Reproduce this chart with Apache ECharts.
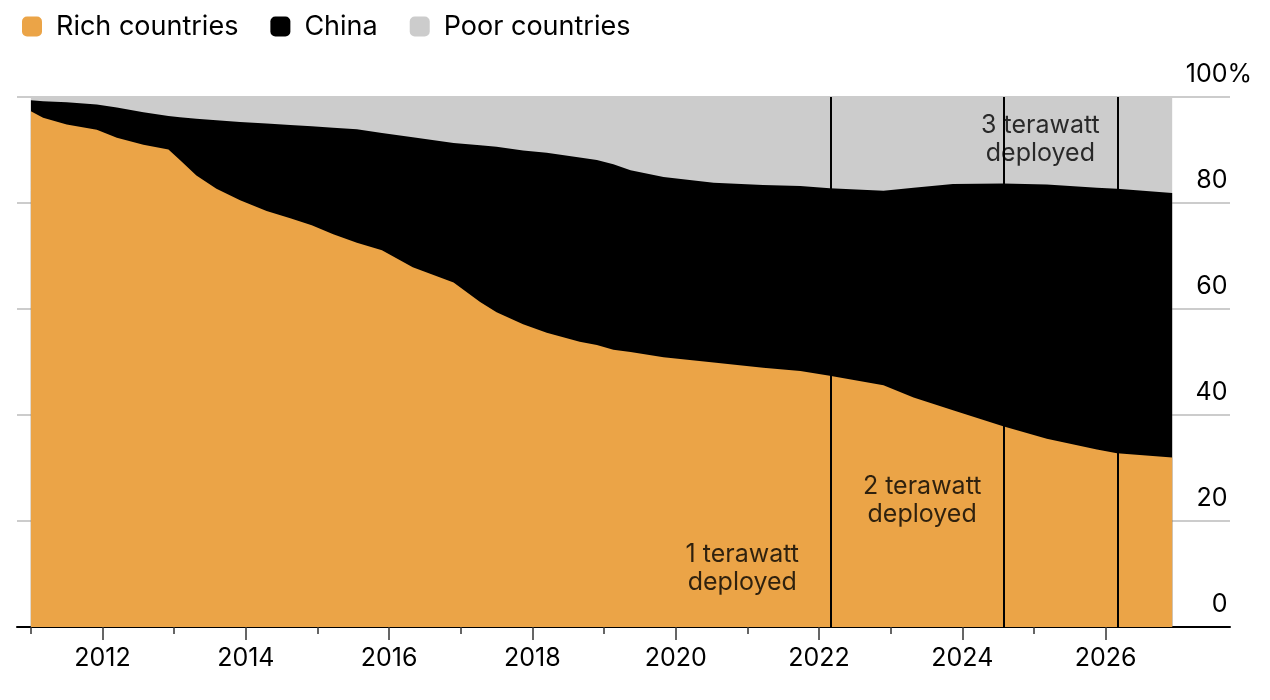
<!DOCTYPE html>
<html>
<head>
<meta charset="utf-8">
<script src="https://cdn.jsdelivr.net/npm/echarts@6/dist/echarts.min.js"></script>
<style>
  html, body { margin: 0; padding: 0; background: #fff; }
  #main { width: 1270px; height: 700px; }
</style>
</head>
<body>
<div id="main"></div>
<script>
// share of solar capacity, %
var years = [2011.0, 2011.17, 2011.5, 2011.92, 2012.2, 2012.57, 2012.92, 2013.08, 2013.31, 2013.59,
             2013.92, 2014.29, 2014.62, 2014.92, 2015.22, 2015.55, 2015.9, 2016.33, 2016.9, 2017.27,
             2017.5, 2017.87, 2018.2, 2018.66, 2018.9, 2019.13, 2019.37, 2019.83, 2020.53, 2021.22,
             2021.74, 2022.15, 2022.9, 2023.32, 2023.87, 2024.57, 2025.18, 2025.88, 2026.16, 2026.93];
var rich  = [97.3, 96.1, 94.8, 93.8, 92.3, 91.0, 90.1, 88.1, 85.2, 82.7,
             80.5, 78.5, 77.1, 75.8, 74.1, 72.5, 71.1, 67.9, 65.0, 61.3,
             59.4, 57.1, 55.5, 53.8, 53.2, 52.3, 51.9, 50.9, 49.9, 48.9,
             48.3, 47.4, 45.6, 43.3, 40.9, 37.9, 35.5, 33.5, 32.8, 32.0];
var china = [2.1, 3.1, 4.2, 4.8, 5.7, 6.1, 6.3, 8.1, 10.7, 12.9,
             14.8, 16.5, 17.6, 18.7, 20.1, 21.4, 22.1, 24.5, 26.3, 29.6,
             31.2, 32.8, 34.0, 34.8, 34.9, 35.0, 34.3, 34.0, 33.9, 34.5,
             34.9, 35.4, 36.7, 39.6, 42.7, 45.8, 48.0, 49.4, 49.9, 49.9];
var poor  = [0.6, 0.8, 1.0, 1.4, 2.0, 2.9, 3.6, 3.8, 4.1, 4.4,
             4.7, 5.0, 5.3, 5.5, 5.8, 6.1, 6.8, 7.6, 8.7, 9.1,
             9.4, 10.1, 10.5, 11.4, 11.9, 12.7, 13.8, 15.1, 16.2, 16.6,
             16.8, 17.2, 17.7, 17.1, 16.4, 16.3, 16.5, 17.1, 17.3, 18.1];

var milestones = [2022.16, 2024.58, 2026.17];
var notes = [
  { x: 2020.93, y: 11.0, text: '1 terawatt\ndeployed' },
  { x: 2023.44, y: 23.8, text: '2 terawatt\ndeployed' },
  { x: 2025.09, y: 91.9, text: '3 terawatt\ndeployed' }
];
var majorYears = [2012, 2014, 2016, 2018, 2020, 2022, 2024, 2026];
var minorYears = [2011, 2013, 2015, 2017, 2019, 2021, 2023, 2025];

var FONT = 'Inter, "Liberation Sans", Arial, sans-serif';

// running totals so each band is drawn from 0 up to its top edge
var richTop = rich.slice();
var chinaTop = rich.map(function (v, i) { return v + china[i]; });
var poorTop = chinaTop.map(function (v, i) { return v + poor[i]; });

function pairs(vals) {
  return years.map(function (y, i) { return [y, vals[i]]; });
}

function areaSeries(name, vals, color, z) {
  return {
    name: name,
    type: 'line',
    z: z,
    data: pairs(vals),
    symbol: 'none',
    showSymbol: false,
    lineStyle: { width: 0 },
    areaStyle: { color: color, opacity: 1 },
    itemStyle: { color: color },
    silent: true
  };
}

var chart = echarts.init(document.getElementById('main'));

var richSeries = areaSeries('Rich countries', richTop, '#eba447', 4);
richSeries.markLine = {
  silent: true,
  symbol: 'none',
  label: { show: false },
  lineStyle: { color: '#000', width: 2, type: 'solid' },
  data: milestones.map(function (m) { return { xAxis: m }; })
};

var option = {
  animation: false,
  legend: {
    data: ['Rich countries', 'China', 'Poor countries'],
    left: 17,
    top: 8,
    icon: 'roundRect',
    itemWidth: 20,
    itemHeight: 20,
    itemGap: 32,
    selectedMode: false,
    textStyle: { fontFamily: FONT, fontSize: 27, color: '#000', padding: [0, 0, 0, 9] }
  },
  grid: { left: 17, right: 40, top: 97, bottom: 73 },
  xAxis: [
    {
      type: 'value',
      min: 2010.806,
      max: 2027.737,
      position: 'bottom',
      splitLine: { show: false },
      axisLine: { show: true, lineStyle: { color: '#000', width: 2 } },
      axisTick: { show: true, customValues: majorYears, length: 13, lineStyle: { color: '#333', width: 1.5 } },
      axisLabel: {
        show: true, customValues: majorYears, margin: 19,
        fontFamily: FONT, fontSize: 25, color: '#000',
        formatter: function (v) { return String(Math.round(v)); }
      }
    },
    {
      type: 'value',
      min: 2010.806,
      max: 2027.737,
      position: 'bottom',
      splitLine: { show: false },
      axisLine: { show: false },
      axisTick: { show: true, customValues: minorYears, length: 7, lineStyle: { color: '#333', width: 1.5 } },
      axisLabel: { show: false }
    }
  ],
  yAxis: {
    type: 'value',
    position: 'right',
    min: 0,
    max: 100,
    interval: 20,
    axisLine: { show: false },
    axisTick: { show: false },
    splitLine: { show: true, lineStyle: { color: '#cccccc', width: 2 } },
    axisLabel: {
      align: 'right',
      margin: 22,
      verticalAlign: 'bottom',
      lineHeight: 26,
      padding: [0, 0, 10, 0],
      formatter: function (v) {
        return v === 100 ? '{n|100}{p|%}' : '{n|' + v + '}{s|%}';
      },
      rich: {
        n: { fontFamily: FONT, fontSize: 25, color: '#000', lineHeight: 26 },
        p: { fontFamily: FONT, fontSize: 25, color: '#000', lineHeight: 26 },
        s: { fontFamily: FONT, fontSize: 25, color: 'rgba(0,0,0,0)', lineHeight: 26 }
      }
    }
  },
  series: [
    areaSeries('Poor countries', poorTop, '#cccccc', 2),
    areaSeries('China', chinaTop, '#000000', 3),
    richSeries,
    {
      name: 'notes',
      type: 'scatter',
      z: 10,
      silent: true,
      symbolSize: 0,
      data: notes.map(function (n) { return { name: n.text, value: [n.x, n.y] }; }),
      label: {
        show: true,
        position: 'inside',
        formatter: '{b}',
        fontFamily: FONT,
        fontSize: 25,
        lineHeight: 28,
        color: '#000',
        align: 'center',
        verticalAlign: 'middle',
        textShadowColor: '#fff',
        textShadowBlur: 0,
        textShadowOffsetX: 1.5,
        textShadowOffsetY: 1.5
      }
    }
  ]
};

chart.setOption(option);
</script>
</body>
</html>
